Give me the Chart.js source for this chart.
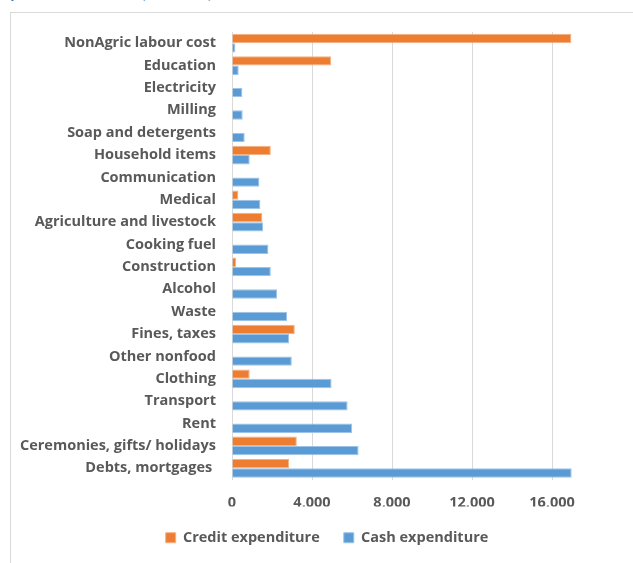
<!DOCTYPE html>
<html><head><meta charset="utf-8">
<script src="https://cdn.jsdelivr.net/npm/chart.js@4"></script>
<style>
html,body{margin:0;padding:0;background:#fff;overflow:hidden}
#wrap{position:relative;width:633px;height:563px;overflow:hidden}
#frame{position:absolute;left:10px;top:12px;width:700px;height:700px;border-left:1px solid #d9d9d9;border-top:1px solid #d9d9d9}
#cap{position:absolute;left:10px;top:-22px;font:20px Lato, sans-serif;color:#2e74b5;white-space:nowrap}
canvas{position:absolute;left:0;top:0}
</style></head>
<body>
<div id="wrap">
  <div id="cap">per household (in TShs)</div>
  <div id="frame"></div>
  <canvas id="c" width="633" height="563"></canvas>
</div>
<script>
const categories = ["NonAgric labour cost","Education","Electricity","Milling","Soap and detergents","Household items","Communication","Medical","Agriculture and livestock","Cooking fuel","Construction","Alcohol","Waste","Fines, taxes","Other nonfood","Clothing","Transport","Rent","Ceremonies, gifts/ holidays","Debts, mortgages "];
const creditExpenditure = [16970, 4960, null, null, null, 1940, null, 320, 1520, null, 200, null, null, 3140, null, 885, null, null, 3240, 2855];
const cashExpenditure = [170, 335, 520, 535, 635, 885, 1370, 1420, 1555, 1820, 1940, 2255, 2755, 2855, 2990, 4980, 5780, 6010, 6330, 16985];
const xTicks = [0, 4000, 8000, 12000, 16000];

const labelFont = {family: "'Open Sans', Lato, sans-serif", size: 14.5, weight: "bold"};
const grey = "#595959";

const shiftLegend = {
  id: "shiftLegend",
  afterLayout(chart) {
    const lg = chart.legend;
    if (lg) { lg.left += 25; lg.right += 25; }
  }
};

new Chart(document.getElementById("c"), {
  type: "bar",
  data: {
    labels: categories,
    datasets: [
      {label: "Credit expenditure", data: creditExpenditure, backgroundColor: "#ed7d31", borderColor: "#f4b183", borderWidth: 1, categoryPercentage: 0.84, barPercentage: 1.0},
      {label: "Cash expenditure", data: cashExpenditure, backgroundColor: "#5b9bd5", borderColor: "#9dc3e6", borderWidth: 1, categoryPercentage: 0.84, barPercentage: 1.0}
    ]
  },
  options: {
    indexAxis: "y",
    responsive: false,
    animation: false,
    layout: {padding: {left: 12, top: 32, right: 41, bottom: 8}},
    scales: {
      x: {
        min: 0, max: 18000,
        afterBuildTicks: (s) => { s.ticks = xTicks.map(v => ({value: v})); },
        afterFit: (s) => { s.height = 27; },
        grid: {color: "#d9d9d9", lineWidth: 1, drawTicks: false},
        border: {display: false},
        ticks: {padding: 15, color: grey, font: labelFont, callback: (v) => v.toLocaleString("en-US")}
      },
      y: {
        afterFit: (s) => { s.width = 220; },
        grid: {display: false, drawTicks: false},
        border: {display: true, color: "#d9d9d9", width: 1},
        ticks: {padding: 16, color: grey, font: labelFont, autoSkip: false}
      }
    },
    plugins: {
      legend: {
        position: "bottom",
        labels: {boxWidth: 10, boxHeight: 10, padding: 24, color: grey, font: labelFont}
      },
      tooltip: {enabled: false}
    }
  },
  plugins: [shiftLegend]
});
</script>
</body></html>
